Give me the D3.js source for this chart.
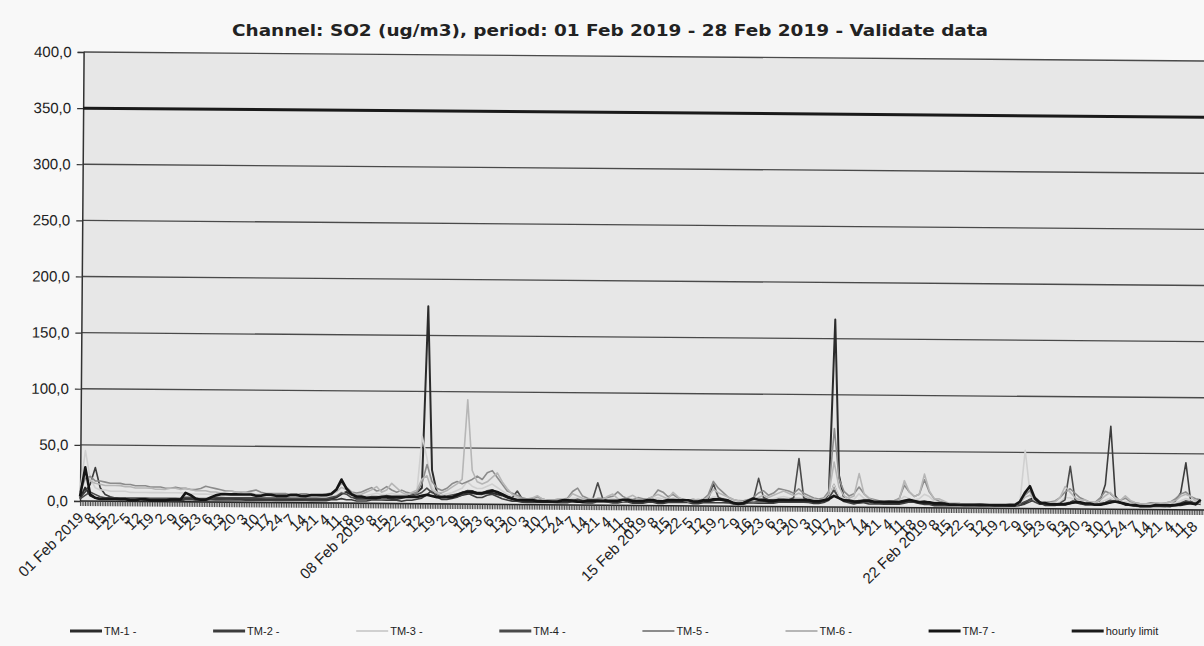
<!DOCTYPE html>
<html><head><meta charset="utf-8">
<script src="https://cdn.jsdelivr.net/npm/d3@7"></script>
<style>body{margin:0;background:#f8f8f8;}svg{display:block}</style>
</head><body><svg id="c" width="1204" height="646"></svg>
<script>
const title = "Channel: SO2 (ug/m3), period: 01 Feb 2019 - 28 Feb 2019 - Validate data";
const seriesNames = ["TM-1 -","TM-2 -","TM-3 -","TM-4 -","TM-5 -","TM-6 -","TM-7 -","hourly limit"];
const hourCount = 672;               // 28 days x 24 hours
const sampleStep = 3;                // values read every 3 hours
const weekDates = ["01 Feb 2019","08 Feb 2019","15 Feb 2019","22 Feb 2019"];
const weekHourLabels = ["8","15","22","5","12","19","2","9","16","23","6","13","20","3","10","17","24","7","14","21","4","11","18"];
const yTicks = [0,50,100,150,200,250,300,350,400];
const yTickLabels = ["0,0","50,0","100,0","150,0","200,0","250,0","300,0","350,0","400,0"];
const hourlyLimit = 350;

const tm1 = [2,12,5,3,2,2,2,2, 2,2,2,2,2,2,2,2, 2,2,2,2,2,3,3,2, 2,2,3,3,3,3,3,3, 3,3,3,3,3,3,3,3, 3,3,3,3,3,3,3,3, 3,3,4,5,8,10,6,4, 4,4,4,4,5,5,4,4,
 5,6,8,10,14,176,30,10, 8,6,6,7,8,9,10,9, 9,10,10,9,8,6,5,4, 3,3,3,3,3,3,3,3, 3,3,3,3,3,3,3,4, 4,3,3,3,4,4,3,3, 3,4,4,3,3,4,4,4, 4,4,3,3,4,4,5,6,
 5,4,3,2,2,4,5,5, 5,4,4,5,5,5,5,5, 5,5,4,4,5,12,167,28, 8,5,4,4,5,5,4,4, 4,4,4,4,5,6,5,4, 4,4,3,3,3,3,3,3, 3,3,3,3,3,3,3,3, 3,3,3,3,5,8,10,6,
 4,4,4,4,4,5,6,5, 4,4,4,4,5,6,8,6, 4,4,3,3,3,3,3,3, 3,3,4,4,5,6,5,7];
const tm2 = [3,8,15,30,12,6,4,3, 2,2,2,2,2,1,1,1, 1,1,1,1,1,2,2,2, 2,2,2,2,2,2,2,2, 2,2,2,2,2,2,2,2, 2,2,2,2,2,2,2,2, 2,2,3,3,4,3,3,2, 2,2,3,3,3,3,3,3,
 2,3,3,4,5,8,12,6, 4,4,5,6,8,10,8,6, 6,8,9,7,5,4,3,3, 2,2,2,2,2,2,2,2, 2,2,3,3,2,2,2,3, 3,3,2,2,3,3,2,2, 2,3,3,2,2,3,3,3, 3,3,2,2,3,3,3,3,
 3,3,2,2,2,3,3,3, 3,3,3,4,4,4,4,4, 4,4,3,3,4,6,20,8, 5,4,3,4,4,3,3,3, 3,3,3,3,4,5,5,4, 3,3,2,2,2,2,2,2, 2,2,2,2,2,2,2,2, 2,2,2,3,4,6,8,5,
 3,3,3,4,5,6,8,6, 4,4,5,8,22,74,12,6, 5,4,3,3,3,3,3,3, 3,4,8,15,42,8,6,5];
const tm3 = [10,45,20,12,10,10,9,9, 9,9,8,8,8,8,8,8, 8,8,8,8,8,8,7,7, 7,7,7,7,6,6,6,6, 6,6,6,6,5,5,5,5, 5,5,5,5,5,5,5,5, 5,5,6,7,10,8,6,6, 6,7,8,9,8,8,9,8,
 8,8,9,10,60,40,15,10, 8,9,10,12,14,20,16,14, 14,16,18,15,12,9,7,6, 5,5,5,6,5,4,4,4, 4,4,6,6,5,4,4,4, 4,5,6,5,4,5,6,5, 4,5,6,7,6,5,7,6, 5,4,4,5,5,6,8,8,
 7,6,5,4,4,5,5,6, 7,6,7,8,9,8,8,8, 7,6,6,5,6,8,20,10, 8,6,7,12,8,6,5,5, 5,5,5,6,10,8,7,8, 12,10,6,5,5,4,4,4, 3,3,3,3,3,3,3,3, 3,3,3,4,52,15,6,4,
 4,4,5,6,10,10,8,6, 6,5,5,6,8,10,8,6, 7,6,5,4,4,4,5,5, 5,6,6,8,10,9,7,6];
const tm4 = [2,5,8,6,4,3,3,3, 3,3,3,3,3,3,3,3, 3,3,3,3,3,4,4,3, 3,3,3,4,4,4,4,4, 4,4,4,4,4,4,4,4, 4,4,4,4,4,4,4,4, 4,4,5,6,9,8,5,5, 5,5,6,6,6,7,6,5,
 6,6,7,8,10,14,10,8, 6,7,8,9,10,12,12,10, 10,12,13,11,9,7,6,12, 5,4,4,4,4,4,4,4, 4,4,4,5,4,4,5,20, 6,4,4,4,5,5,4,4, 4,5,5,4,4,5,5,5, 5,5,4,4,5,6,20,8,
 6,5,3,3,3,5,6,25, 8,6,6,6,6,6,8,43, 8,6,5,5,6,8,15,8, 6,6,5,6,6,6,5,5, 5,5,5,5,6,7,6,5, 6,5,4,4,4,3,3,3, 3,3,3,3,3,3,3,3, 3,3,3,4,6,8,6,4,
 4,4,4,5,8,38,8,5, 5,5,4,5,6,8,7,6, 5,4,4,3,3,3,4,4, 4,4,5,6,8,7,6,9];
const tm5 = [8,20,22,18,18,17,16,16, 16,15,15,14,14,14,13,13, 13,12,12,13,12,12,11,11, 12,14,13,12,11,10,10,9, 9,9,10,11,9,8,8,8, 8,8,7,7,8,8,7,7, 7,8,9,12,18,14,10,9, 10,12,14,11,12,15,12,10,
 12,10,9,10,18,35,20,14, 12,14,18,20,18,20,22,25, 22,28,30,24,18,12,10,8, 6,5,5,7,5,4,4,5, 5,6,12,15,8,6,5,6, 6,7,8,12,8,6,5,7, 6,6,8,14,12,8,10,7, 6,5,6,5,6,10,22,16,
 12,8,6,5,5,6,8,12, 14,10,12,16,15,14,12,16, 12,10,8,7,8,14,70,25, 14,10,12,18,12,8,7,6, 5,6,6,8,20,14,10,12, 25,14,8,6,5,4,4,4, 3,3,3,4,3,3,3,3, 3,4,4,6,12,16,8,5,
 6,6,7,10,15,18,14,10, 8,6,6,10,16,14,10,8, 10,7,6,5,5,6,6,5, 6,7,10,14,16,12,10,9];
const tm6 = [10,25,18,16,15,14,14,14, 14,13,13,12,12,12,12,11, 11,11,12,12,11,12,11,10, 10,10,9,9,8,9,10,9, 8,9,8,7,7,7,6,6, 6,7,6,6,7,6,6,6, 6,7,8,10,14,12,9,8, 8,10,12,15,10,12,18,14,
 10,8,10,12,22,25,12,10, 10,12,15,18,22,93,30,20, 18,20,24,28,20,14,9,7, 5,5,6,8,5,4,4,4, 4,5,10,8,6,5,6,5, 5,8,10,6,5,7,9,6, 5,6,8,10,8,6,12,8, 5,4,5,6,5,8,15,12,
 10,8,6,5,4,5,6,8, 10,8,10,12,14,12,10,12, 10,8,7,6,7,12,40,18, 10,8,10,30,12,8,6,5, 5,5,6,7,24,14,10,12, 30,15,8,8,6,4,4,4, 3,3,3,3,3,3,3,3, 3,3,4,5,10,12,8,5,
 6,5,6,10,20,15,10,8, 8,6,6,8,12,15,10,8, 12,8,6,5,5,5,6,6, 6,7,8,12,14,12,8,8];
const tm7 = [4,30,6,3,2,2,2,2, 2,2,1,1,2,2,1,1, 1,1,2,2,2,8,6,3, 2,2,4,6,7,7,7,7, 7,7,7,6,6,7,7,6, 6,6,7,7,6,6,7,7, 7,7,8,12,21,13,8,6, 6,5,5,5,6,6,6,6,
 6,6,6,6,7,8,7,6, 6,6,6,8,10,11,11,10, 10,11,12,11,9,7,5,4, 4,4,4,3,3,3,3,3, 4,4,4,3,3,4,4,4, 4,4,4,4,5,5,4,4, 4,5,5,4,4,5,5,5, 5,5,4,4,5,5,6,6,
 6,5,3,2,3,5,7,6, 6,5,5,6,6,6,6,6, 6,6,5,5,6,7,10,8, 6,6,5,5,6,6,5,5, 5,5,5,5,6,7,6,5, 5,5,4,4,4,3,3,3, 3,3,3,3,3,3,3,3, 3,3,3,6,14,20,9,5,
 5,4,4,4,4,5,6,6, 5,5,4,4,5,6,7,6, 5,4,4,3,3,3,4,4, 4,4,4,5,6,6,5,9];

const seriesData = [tm1, tm2, tm3, tm4, tm5, tm6, tm7];
const seriesColors = ["#2b2b2b","#3c3c3c","#d0d0d0","#4a4a4a","#8c8c8c","#b6b6b6","#151515","#1a1a1a"];
const seriesWidths = [2,1.6,1.6,1.6,1.6,1.6,2.6,3];

const svg = d3.select("#c");
svg.append("rect").attr("width",1204).attr("height",646).attr("fill","#f8f8f8");

const x = d3.scaleLinear().domain([0, hourCount - 1]).range([80, 1204]);
const y = d3.scaleLinear().domain([0, 400]).range([501, 52]);

const g = svg.append("g").attr("transform","rotate(0.46,80,501)");

g.append("rect").attr("x",80).attr("y",y(400)).attr("width",1140).attr("height",y(0)-y(400)).attr("fill","#e7e7e7");

// grid
g.append("g").selectAll("line").data(yTicks.filter(d=>d>0)).join("line")
  .attr("x1",80).attr("x2",1220).attr("y1",d=>y(d)).attr("y2",d=>y(d))
  .attr("stroke","#4a4a4a").attr("stroke-width",1.3);

// y axis
const yAxis = g.append("g").attr("transform","translate(80,0)")
  .call(d3.axisLeft(y).tickValues(yTicks).tickSize(6).tickFormat((d,i)=>yTickLabels[i]));
yAxis.select(".domain").attr("stroke","#333").attr("stroke-width",1.5);
yAxis.selectAll(".tick line").attr("stroke","#333").attr("stroke-width",1.2);
yAxis.selectAll("text").attr("x",-12).attr("font-family","Liberation Sans, Arial, sans-serif").attr("font-size",15).attr("fill","#222");

// x axis with hourly ticks
const xAxis = g.append("g").attr("transform","translate(0,501)")
  .call(d3.axisBottom(x).tickValues(d3.range(hourCount)).tickSize(5).tickFormat(""));
xAxis.select(".domain").attr("stroke","#222").attr("stroke-width",1.6).attr("d","M80,0H1220");
xAxis.selectAll(".tick line").attr("stroke","#3a3a3a").attr("stroke-width",0.9);

// x labels every 7 hours
const xLabels = [];
weekDates.forEach((dt,w)=>{
  xLabels.push({h:w*168, t:dt});
  weekHourLabels.forEach((t,j)=>xLabels.push({h:w*168+7*(j+1), t:t}));
});
g.append("g").selectAll("text").data(xLabels).join("text")
  .attr("transform",d=>`translate(${x(d.h)+1},${515}) rotate(-45)`)
  .attr("text-anchor","end").attr("dy","0.35em")
  .attr("font-family","Liberation Sans, Arial, sans-serif").attr("font-size",15).attr("fill","#222")
  .text(d=>d.t);

// series lines
const line = d3.line().x((d,i)=>x(i*sampleStep)).y(d=>y(d));
seriesData.forEach((s,i)=>{
  g.append("path").datum(s).attr("d",line).attr("fill","none")
    .attr("stroke",seriesColors[i]).attr("stroke-width",seriesWidths[i]).attr("stroke-linejoin","round");
});
// hourly limit
g.append("line").attr("x1",x(0)).attr("x2",1220).attr("y1",y(hourlyLimit)).attr("y2",y(hourlyLimit))
  .attr("stroke",seriesColors[7]).attr("stroke-width",seriesWidths[7]);

// title
svg.append("text").attr("x",610).attr("y",36).attr("text-anchor","middle")
  .attr("font-family","DejaVu Sans, sans-serif").attr("font-weight","bold").attr("font-size",15)
  .attr("fill","#222").attr("textLength",756).attr("lengthAdjust","spacingAndGlyphs").text(title);

// legend
const lg = svg.append("g");
seriesNames.forEach((n,i)=>{
  const lx = 70 + i*143.1;
  lg.append("line").attr("x1",lx).attr("x2",lx+32).attr("y1",631).attr("y2",631)
    .attr("stroke",seriesColors[i]).attr("stroke-width",i===2||i===5||i===4?2:3);
  lg.append("text").attr("x",lx+34).attr("y",631).attr("dy","0.35em")
    .attr("font-family","Liberation Sans, Arial, sans-serif").attr("font-size",11).attr("fill","#222").text(n);
});
</script></body></html>
